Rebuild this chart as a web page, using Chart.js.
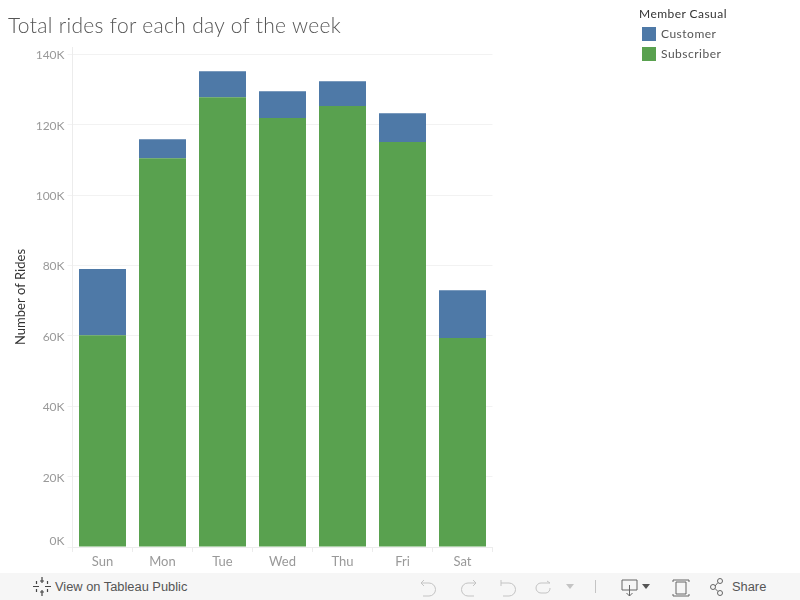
<!DOCTYPE html>
<html>
<head>
<meta charset="utf-8">
<script src="https://cdn.jsdelivr.net/npm/chart.js@4"></script>
<style>
  html, body { margin: 0; padding: 0; background: #fff; }
  #wrap { position: relative; width: 800px; height: 600px; overflow: hidden; font-family: Lato, sans-serif; }
  #myChart { position: absolute; left: 0; top: 0; }
  #title { position: absolute; left: 8px; top: 12px; font-size: 21px; font-weight: 300; color: #555; letter-spacing: .32px; white-space: nowrap; }
  #legend { position: absolute; left: 639px; top: 6px; font-size: 12px; color: #555; }
  #legend .head { color: #333; height: 18px; line-height: 16px; letter-spacing: .45px; }
  #legend .row { position: relative; height: 20px; line-height: 20px; padding-left: 22px; letter-spacing: .5px; }
  #legend .row i { position: absolute; left: 3px; top: 3px; width: 14px; height: 14px; }
  #toolbar { position: absolute; left: 0; top: 573px; width: 800px; height: 27px; background: #f6f6f6; color: #555; font-size: 12.85px; }
  #toolbar span { position: absolute; top: 6px; line-height: 16px; font-family: "Liberation Sans", sans-serif; }
  #toolbar svg { position: absolute; left: 0; top: 0; }
</style>
</head>
<body>
<div id="wrap">
  <canvas id="myChart" width="800" height="600"></canvas>
  <div id="title">Total rides for each day of the week</div>
  <div id="legend"></div>
  <div id="toolbar">
    <svg width="800" height="27" fill="none" stroke="#666" stroke-width="1">
      <path d="M42 4v6M42 17v6M33 13.500h6M45 13.500h6M36.500 8v3M36.500 16v3M47.500 8v3M47.500 16v3M40 8h4M40 19h4" stroke="#444" stroke-width="1.200"/>
      <g stroke="#c4c4c4">
        <path d="M421 10h8a6 6 0 0 1 0 13h-6M421 10l3-3M421 10l3 3"/>
        <path d="M476 10h-8a6 6 0 0 0 0 13h6M476 10l-3-3M476 10l-3 3"/>
        <path d="M501 10h8a6 6 0 0 1 0 13h-6M501 7v6"/>
        <path d="M550 10h-9a5 5 0 0 0 0 10h5a5 5 0 0 0 4-5M550 10l-3-2"/>
        <path d="M595.500 7v13"/>
      </g>
      <path d="M566 11l4 5 4-5z" fill="#c4c4c4" stroke="none"/>
      <path d="M622 7h15v10h-15zM629.500 12v11M626.500 20l3 3 3-3"/>
      <path d="M642 11l4 5 4-5z" fill="#555" stroke="none"/>
      <path d="M673 9v-2h16v2M673 21v2h16v-2M676 9h10v12h-10z"/>
      <circle cx="720" cy="8" r="2.500"/><circle cx="713" cy="14" r="2.500"/><circle cx="720" cy="20" r="2.500"/>
      <path d="M715 13l3-3.500M715 15.500l3 3"/>
    </svg>
    <span style="left:55px">View on Tableau Public</span>
    <span style="left:732px">Share</span>
  </div>
</div>
<script>
const days = ['Sun', 'Mon', 'Tue', 'Wed', 'Thu', 'Fri', 'Sat'];
const subscriber = [60200, 110500, 127800, 121900, 125300, 115100, 59400];
const customer = [18800, 5400, 7400, 7600, 7100, 8200, 13600];
const yTicks = [0, 20000, 40000, 60000, 80000, 100000, 120000, 140000];
const seriesNames = ['Customer', 'Subscriber'];
const seriesColors = ['#4e79a7', '#59a14f'];

const legendBox = document.getElementById('legend');
legendBox.innerHTML = '<div class="head">Member Casual</div>' + seriesNames
  .map((name, i) => `<div class="row"><i style="background:${seriesColors[i]}"></i>${name}</div>`)
  .join('');

new Chart(document.getElementById('myChart'), {
  type: 'bar',
  data: {
    labels: days,
    datasets: [
      { label: seriesNames[1], data: subscriber, backgroundColor: seriesColors[1] },
      { label: seriesNames[0], data: customer, backgroundColor: seriesColors[0] },
    ],
  },
  options: {
    responsive: false,
    animation: false,
    barPercentage: 47 / 60,
    categoryPercentage: 1,
    layout: { padding: { left: 0, top: 47, right: 307.5, bottom: 0 } },
    plugins: { legend: { display: false }, title: { display: false }, tooltip: { enabled: false } },
    scales: {
      x: {
        stacked: true,
        afterFit: (scale) => { scale.height = 53; },
        grid: { drawOnChartArea: false, offset: true, tickLength: 5, color: '#ececec' },
        border: { color: '#ececec' },
        ticks: { color: '#999', font: { family: 'Lato', size: 13 }, padding: 2, maxRotation: 0 },
      },
      y: {
        stacked: true,
        min: 0,
        max: 142100,
        afterBuildTicks: (scale) => {
          scale.ticks = yTicks.map((value) => ({ value }));
        },
        afterFit: (scale) => { scale.width = 72.5; },
        grid: { color: '#f2f2f2', tickLength: 5 },
        border: { color: '#ececec' },
        title: {
          display: true,
          text: 'Number of Rides',
          color: '#333',
          font: { family: 'Lato', size: 13 },
          padding: { top: 13, bottom: 0 },
        },
        ticks: {
          autoSkip: false,
          color: '#999',
          font: { family: 'Lato', size: 12 },
          padding: 3,
          labelOffset: 1,
          // the 0K label sits above the axis line, the blank second line lifts it
          callback: (value) => (value === 0 ? ['0K', ''] : value / 1000 + 'K'),
        },
      },
    },
  },
});
</script>
</body>
</html>
